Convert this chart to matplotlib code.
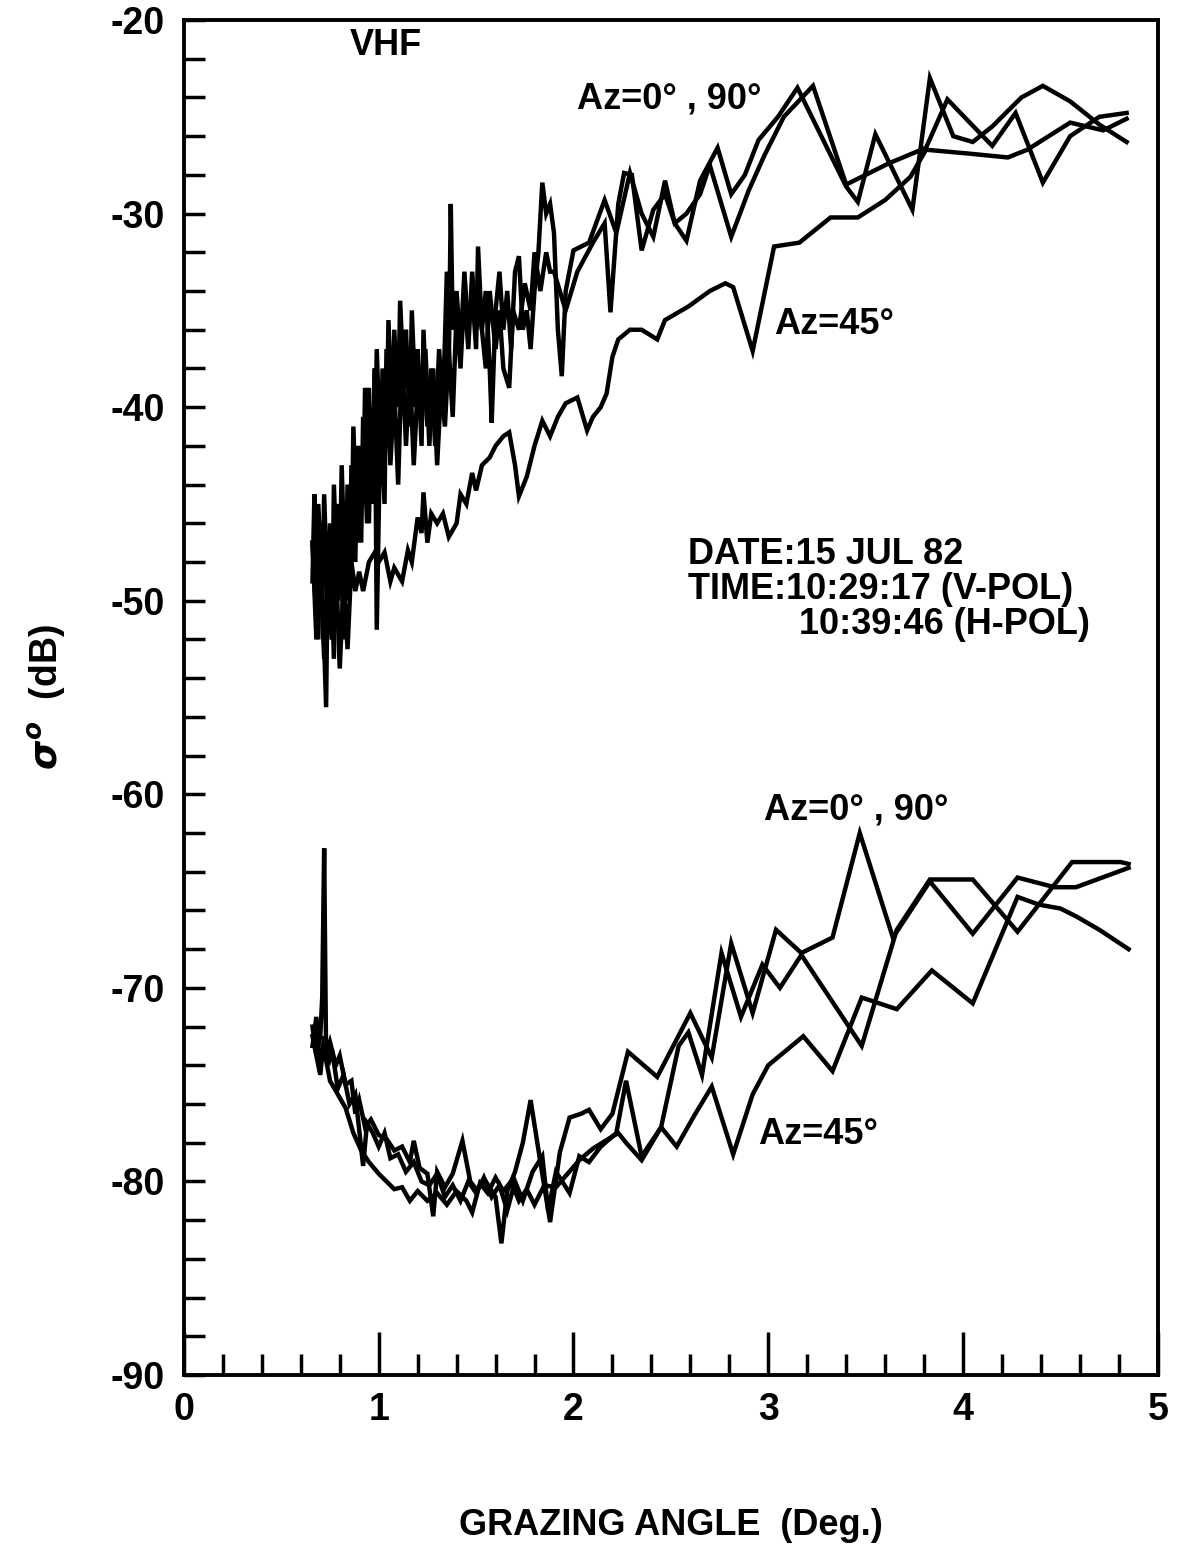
import matplotlib.pyplot as plt
from matplotlib.ticker import MultipleLocator

plt.rcParams['font.family'] = ['Liberation Sans', 'DejaVu Sans']
plt.rcParams['font.weight'] = 'bold'
plt.rcParams['mathtext.fontset'] = 'dejavusans'
plt.rcParams['axes.unicode_minus'] = False

# upper group, V-POL (Az = 0, 90, 45)
v_az0_x = [0.66, 0.68, 0.69, 0.71, 0.72, 0.74, 0.75, 0.77, 0.78, 0.80, 0.81, 0.83, 0.84, 0.86, 0.87,
           0.89, 0.90, 0.92, 0.93, 0.95, 0.96, 0.98, 0.99, 1.01, 1.02, 1.04, 1.05, 1.07, 1.08, 1.10,
           1.11, 1.13, 1.14, 1.16, 1.17, 1.19, 1.20, 1.22, 1.23, 1.25, 1.27, 1.29, 1.31, 1.33, 1.35,
           1.36, 1.37, 1.38, 1.40, 1.42, 1.44, 1.46, 1.48, 1.50, 1.51, 1.53, 1.55, 1.57, 1.58, 1.60,
           1.62, 1.64, 1.66, 1.68, 1.70, 1.72, 1.74, 1.76, 1.78, 1.80, 1.82, 1.84, 1.86, 1.88, 1.90,
           1.92, 1.94, 1.96, 2.00, 2.08, 2.16, 2.22, 2.29, 2.35, 2.41, 2.47, 2.52, 2.58, 2.65, 2.74,
           2.81, 2.88, 2.95, 3.05, 3.15, 3.40, 3.46, 3.55, 3.74, 3.83, 3.95, 4.05, 4.15, 4.30, 4.41,
           4.55, 4.70, 4.84]
v_az0_y = [-47, -52, -45, -50, -44.5, -51, -46, -53, -45, -49, -43, -50, -44, -48, -41,
           -47, -42, -45, -39, -46, -40, -44, -37, -43, -38, -42, -35.5, -41, -36, -40,
           -34.5, -39, -36, -41, -35, -40, -37, -42, -36, -41, -38, -42, -37, -40, -33,
           -38, -29.5, -36, -34, -37, -33, -36, -34, -37, -31.7, -36, -34, -38, -40.8, -35,
           -33, -36, -34, -37, -33, -32.2, -36, -35, -37, -34, -32, -28.4, -30, -29.5, -31,
           -36, -38.4, -34, -31.9, -31.5, -29.3, -31, -27.9, -30, -31.2, -28.3, -30.5, -31.4, -28.3, -26.6,
           -29.0, -28.0, -26.2, -25.0, -23.5, -28.6, -29.4, -25.9, -29.8, -23.0, -26.0, -26.3, -25.5, -24.0, -23.4,
           -24.2, -25.4, -26.3]

v_az90_x = [0.66, 0.67, 0.69, 0.70, 0.73, 0.74, 0.76, 0.77, 0.79, 0.80, 0.82, 0.83, 0.85, 0.86, 0.88,
            0.89, 0.91, 0.92, 0.94, 0.95, 0.97, 0.98, 0.99, 1.01, 1.03, 1.04, 1.06, 1.08, 1.10, 1.12,
            1.14, 1.16, 1.18, 1.20, 1.22, 1.24, 1.26, 1.28, 1.30, 1.32, 1.34, 1.36, 1.38, 1.40, 1.42,
            1.44, 1.46, 1.48, 1.50, 1.52, 1.55, 1.57, 1.60, 1.62, 1.64, 1.67, 1.69, 1.72, 1.75, 1.78,
            1.80, 1.83, 1.86, 1.88, 1.90, 1.96, 2.02, 2.10, 2.16, 2.19, 2.23, 2.26, 2.30, 2.35, 2.41,
            2.47, 2.52, 2.58, 2.65, 2.70, 2.81, 2.90, 2.98, 3.08, 3.23, 3.40, 3.50, 3.62, 3.81, 3.92,
            4.15, 4.27, 4.41, 4.55, 4.70, 4.84]
v_az90_y = [-49, -44.5, -52, -46, -55.5, -47, -52, -44, -50, -45, -52, -46, -50, -43, -48,
            -42, -47, -40.5, -46, -39, -45, -38, -51.5, -40, -45, -37, -43, -39, -44, -37,
            -42, -38, -43, -39, -41, -37, -42, -38, -43, -39, -41, -37, -40.5, -35, -38,
            -34, -37, -33, -36, -35, -38, -34, -37, -35, -38, -39, -35, -36, -33.6, -35,
            -32, -34, -32, -33, -33, -35, -33, -31.5, -30.5, -35.1, -29.5, -27.9, -28.0, -31.9, -29.8,
            -29.0, -30.5, -30.0, -29.0, -27.5, -31.2, -28.8, -27.0, -25.0, -23.4, -28.5, -28.0, -27.4, -26.6, -24.1,
            -26.5, -24.8, -28.4, -26.0, -25.0, -24.8]

v_az45_x = [0.66, 0.68, 0.70, 0.72, 0.74, 0.76, 0.78, 0.80, 0.82, 0.84, 0.86, 0.88, 0.90, 0.92, 0.95,
            0.98, 1.00, 1.03, 1.06, 1.08, 1.12, 1.15, 1.17, 1.20, 1.22, 1.23, 1.25, 1.27, 1.30, 1.33,
            1.36, 1.40, 1.42, 1.45, 1.48, 1.50, 1.53, 1.57, 1.60, 1.64, 1.67, 1.70, 1.72, 1.76, 1.80,
            1.84, 1.88, 1.92, 1.96, 2.02, 2.07, 2.10, 2.14, 2.17, 2.20, 2.23, 2.29, 2.35, 2.43, 2.47,
            2.59, 2.70, 2.78, 2.82, 2.92, 3.03, 3.16, 3.32, 3.46, 3.60, 3.73, 3.81, 4.03, 4.23, 4.33,
            4.55, 4.72, 4.84]
v_az45_y = [-47, -51, -48, -53, -49, -52, -48, -53.5, -49, -52.5, -48, -49.5, -48.5, -49.5, -48,
            -47.5, -48, -47.5, -49, -48.3, -49, -47.4, -48, -45.7, -46.5, -44.4, -47, -45.5, -46, -45.5,
            -46.7, -46, -44.5, -45, -43.4, -44.3, -43, -42.6, -42, -41.5, -41.3, -43, -44.6, -43.6, -42,
            -40.7, -41.5, -40.5, -39.8, -39.5, -41.2, -40.5, -40.0, -39.3, -37.4, -36.5, -36.0, -36.0, -36.5, -35.5,
            -34.8, -34.0, -33.6, -33.8, -37.1, -31.7, -31.5, -30.2, -30.2, -29.3, -28.1, -26.7, -26.9, -27.1, -26.7,
            -25.3, -25.7, -25.1]

# lower group, H-POL (Az = 0, 90, 45)
h_az0_x = [0.66, 0.68, 0.70, 0.71, 0.72, 0.73, 0.75, 0.78, 0.80, 0.83, 0.86, 0.88, 0.90, 0.93, 0.96,
           1.00, 1.04, 1.08, 1.12, 1.16, 1.18, 1.21, 1.25, 1.28, 1.30, 1.34, 1.38, 1.43, 1.47, 1.50,
           1.55, 1.60, 1.63, 1.66, 1.70, 1.74, 1.78, 1.83, 1.88, 1.93, 1.98, 2.04, 2.08, 2.14, 2.20,
           2.28, 2.43, 2.60, 2.71, 2.81, 2.92, 3.04, 3.17, 3.33, 3.47, 3.64, 3.83, 4.05, 4.28, 4.47,
           4.58, 4.85]
h_az0_y = [-72, -73.5, -72.5, -70.5, -62.8, -73.5, -72.8, -74, -73.5, -75, -74.8, -76.5, -75.8, -77.2, -76.8,
           -77.6, -77.8, -78.4, -78.2, -79.0, -77.9, -79.3, -79.6, -81.8, -79.5, -80.3, -79.6, -77.9, -80.0, -80.4,
           -80.0, -80.8, -83.2, -80.5, -79.5, -78.0, -75.8, -79.0, -82.1, -78.5, -76.7, -76.5, -76.3, -77.3, -76.5,
           -73.3, -74.6, -71.3, -73.6, -67.7, -71.3, -67.0, -68.2, -67.4, -62.0, -67.4, -64.5, -67.2, -64.3, -64.8,
           -64.8, -63.8]

h_az90_x = [0.66, 0.68, 0.70, 0.72, 0.74, 0.76, 0.79, 0.82, 0.85, 0.88, 0.92, 0.94, 0.97, 1.00, 1.03,
            1.06, 1.10, 1.14, 1.18, 1.22, 1.26, 1.30, 1.34, 1.38, 1.42, 1.46, 1.50, 1.54, 1.58, 1.62,
            1.66, 1.70, 1.74, 1.79, 1.84, 1.87, 1.91, 1.98, 2.03, 2.08, 2.14, 2.22, 2.27, 2.35, 2.45,
            2.54, 2.59, 2.66, 2.76, 2.86, 2.97, 3.06, 3.17, 3.48, 3.66, 3.83, 4.05, 4.28, 4.56, 4.81,
            4.85]
h_az90_y = [-73, -71.5, -74.5, -72.5, -74, -73.2, -75.2, -74.5, -76.0, -75.5, -79.2, -77.0, -77.5, -78.2, -77.5,
            -78.8, -78.6, -79.5, -79.0, -80.0, -80.2, -79.6, -80.8, -80.2, -81.0, -80.0, -80.6, -79.8, -80.8, -80.2,
            -81.5, -80.0, -81.0, -79.5, -78.7, -81.5, -79.5, -80.6, -78.7, -79.0, -78.2, -77.5, -74.8, -78.7, -77.2,
            -73.0, -72.3, -74.5, -68.2, -71.5, -68.8, -70.0, -68.3, -73.0, -67.0, -64.4, -64.4, -67.1, -63.5, -63.5,
            -63.6]

h_az45_x = [0.66, 0.69, 0.72, 0.75, 0.79, 0.83, 0.87, 0.91, 0.95, 1.00, 1.04, 1.08, 1.12, 1.16, 1.20,
            1.25, 1.30, 1.35, 1.40, 1.45, 1.48, 1.52, 1.56, 1.60, 1.64, 1.68, 1.72, 1.76, 1.80, 1.85,
            1.91, 1.97, 2.03, 2.10, 2.18, 2.23, 2.27, 2.35, 2.45, 2.53, 2.62, 2.71, 2.82, 2.92, 3.00,
            3.18, 3.33, 3.48, 3.66, 3.84, 4.05, 4.28, 4.39, 4.50, 4.58, 4.70, 4.85]
h_az45_y = [-72.5, -74, -73.2, -74.8, -75.5, -76.2, -77.5, -78.4, -79.0, -79.6, -80.0, -80.4, -80.3, -81.0, -80.5,
            -81.0, -80.6, -81.2, -80.5, -81.0, -81.6, -80.1, -80.6, -79.8, -80.5, -80.0, -81.0, -80.4, -81.2, -80.2,
            -80.3, -79.6, -78.9, -78.3, -77.8, -77.5, -78.0, -78.9, -77.2, -78.2, -76.6, -75.1, -78.6, -75.5, -74.0,
            -72.5, -74.3, -70.5, -71.1, -69.1, -70.8, -65.3, -65.7, -65.9, -66.3, -67.0, -68.0]

fig = plt.figure(figsize=(11.79, 15.65), dpi=100)
ax = fig.add_axes([0.156, 0.1214, 0.826, 0.8658])

for xs, ys in [(v_az0_x, v_az0_y), (v_az90_x, v_az90_y), (v_az45_x, v_az45_y),
               (h_az0_x, h_az0_y), (h_az90_x, h_az90_y), (h_az45_x, h_az45_y)]:
    ax.plot(xs, ys, color='black', lw=3.2, solid_joinstyle='miter')

ax.set_xlim(0, 5)
ax.set_ylim(-90, -20)
ax.xaxis.set_major_locator(MultipleLocator(1))
ax.xaxis.set_minor_locator(MultipleLocator(0.2))
ax.yaxis.set_major_locator(MultipleLocator(10))
ax.yaxis.set_minor_locator(MultipleLocator(2))
ax.tick_params(axis='both', which='both', direction='in', width=2.5, top=False, right=False)
ax.tick_params(axis='x', which='major', length=31, pad=12, labelsize=27)
ax.tick_params(axis='x', which='minor', length=15)
ax.tick_params(axis='y', which='both', length=15, pad=14, labelsize=27)
for s in ax.spines.values():
    s.set_linewidth(2.8)
for lab in ax.get_xticklabels() + ax.get_yticklabels():
    lab.set_fontweight('bold')

ax.set_xlabel('GRAZING ANGLE  (Deg.)', fontsize=26, fontweight='bold', labelpad=58)
ax.set_ylabel(r'$\sigma^o$  (dB)', fontsize=27, fontweight='bold', labelpad=30)

tk = dict(fontsize=26, fontweight='bold', va='center', ha='left')
ax.text(0.85, -21.3, 'VHF', **tk)
ax.text(2.02, -24.1, 'Az=0° , 90°', **tk)
ax.text(3.03, -35.75, 'Az=45°', **tk)
ax.text(2.59, -47.6, 'DATE:15 JUL 82', **tk)
ax.text(2.59, -49.4, 'TIME:10:29:17 (V-POL)', **tk)
ax.text(3.16, -51.25, '10:39:46 (H-POL)', **tk)
ax.text(2.98, -60.8, 'Az=0° , 90°', **tk)
ax.text(2.95, -77.6, 'Az=45°', **tk)

fig.savefig('out.png', dpi=100)
